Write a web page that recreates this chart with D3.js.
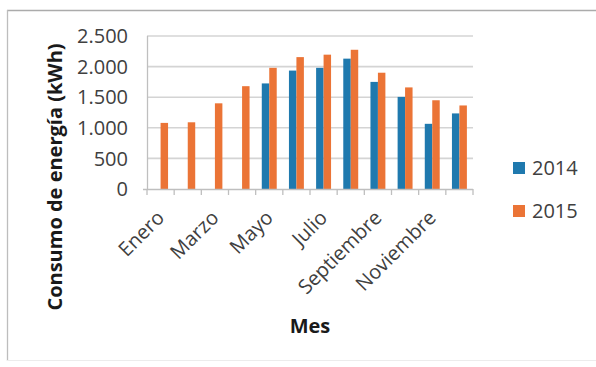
<!DOCTYPE html>
<html><head><meta charset="utf-8">
<script src="https://cdn.jsdelivr.net/npm/d3@7"></script>
<style>
html,body{margin:0;padding:0;background:#fff;}
svg{display:block;}
text{font-family:"Open Sans",sans-serif;fill:#404040;}
</style></head>
<body>
<svg id="c" width="596" height="367"></svg>
<script>
const months = ["Enero","Febrero","Marzo","Abril","Mayo","Junio","Julio","Agosto","Septiembre","Octubre","Noviembre","Diciembre"];
const seriesNames = ["2014","2015"];
const values2014 = [null,null,null,null,1725,1935,1980,2130,1750,1505,1065,1235];
const values2015 = [1080,1090,1400,1680,1980,2155,2195,2275,1900,1660,1450,1365];
const yTicks = [0,500,1000,1500,2000,2500];
const shownLabels = ["Enero","Marzo","Mayo","Julio","Septiembre","Noviembre"];
const colors = ["#1f79ae","#eb7436"];

const svg = d3.select("#c");
const fmt = v => d3.format(",")(v).replace(/,/g, ".");

// frame
svg.append("line").attr("x1",7).attr("x2",596).attr("y1",10.5).attr("y2",10.5).attr("stroke","#ababab").attr("stroke-width",1.5);
svg.append("line").attr("x1",7.5).attr("x2",7.5).attr("y1",10).attr("y2",361).attr("stroke","#bdbdbd").attr("stroke-width",1.3);
svg.append("line").attr("x1",7).attr("x2",596).attr("y1",360.5).attr("y2",360.5).attr("stroke","#ececec").attr("stroke-width",1);

const x = d3.scaleBand().domain(months).range([147,473]).paddingInner(0.45).paddingOuter(0.225);
const xs = d3.scaleBand().domain(seriesNames).range([0,x.bandwidth()]);
const y = d3.scaleLinear().domain([0,2500]).range([189,36]);

// gridlines
svg.append("g").selectAll("line").data(yTicks.filter(t=>t>0)).join("line")
  .attr("x1",147).attr("x2",473).attr("y1",d=>y(d)).attr("y2",d=>y(d))
  .attr("stroke","#d4d4d4").attr("stroke-width",1.6);

// y labels
svg.append("g").selectAll("text").data(yTicks).join("text")
  .attr("x",128).attr("y",d=>y(d)).attr("dy","0.36em").attr("text-anchor","end")
  .attr("font-size",20).text(d=>fmt(d));

// y axis line
svg.append("line").attr("x1",147.5).attr("x2",147.5).attr("y1",36).attr("y2",189).attr("stroke","#bfbfbf").attr("stroke-width",1.3);

// bars
const data = months.map((m,i)=>({m, vals:[values2014[i],values2015[i]]}));
const g = svg.append("g");
data.forEach(d=>{
  seriesNames.forEach((s,j)=>{
    const v = d.vals[j];
    if(v==null) return;
    g.append("rect").attr("x",x(d.m)+xs(s)).attr("width",xs.bandwidth())
      .attr("y",y(v)).attr("height",y(0)-y(v)).attr("fill",colors[j]);
  });
});

// x axis
svg.append("line").attr("x1",143).attr("x2",473).attr("y1",189.5).attr("y2",189.5).attr("stroke","#bfbfbf").attr("stroke-width",1.3);
const step = x.step();
const tickPos = d3.range(months.length+1).map(i=>147+i*step);
svg.append("g").selectAll("line").data(tickPos).join("line")
  .attr("x1",d=>d).attr("x2",d=>d).attr("y1",189).attr("y2",195)
  .attr("stroke","#bfbfbf").attr("stroke-width",1.3);

// x labels
svg.append("g").selectAll("text").data(shownLabels).join("text")
  .attr("transform",d=>`translate(${x(d)+x.bandwidth()/2+5},${219}) rotate(-45)`)
  .attr("text-anchor","end").attr("font-size",20).text(d=>d);

// axis titles
svg.append("text").attr("x",310).attr("y",333).attr("text-anchor","middle")
  .attr("font-size",20).attr("font-weight","bold").style("fill","#1a1a1a").text("Mes");
svg.append("text").attr("transform","translate(62,177) rotate(-90)").attr("text-anchor","middle")
  .attr("font-size",20).attr("font-weight","bold").style("fill","#1a1a1a").text("Consumo de energía (kWh)");

// legend
const lg = svg.append("g");
seriesNames.forEach((s,j)=>{
  const cy = 168 + j*43;
  lg.append("rect").attr("x",513).attr("y",cy-6).attr("width",12).attr("height",12).attr("fill",colors[j]);
  lg.append("text").attr("x",532).attr("y",cy).attr("dy","0.36em").attr("font-size",20).text(s);
});
</script>
</body></html>
